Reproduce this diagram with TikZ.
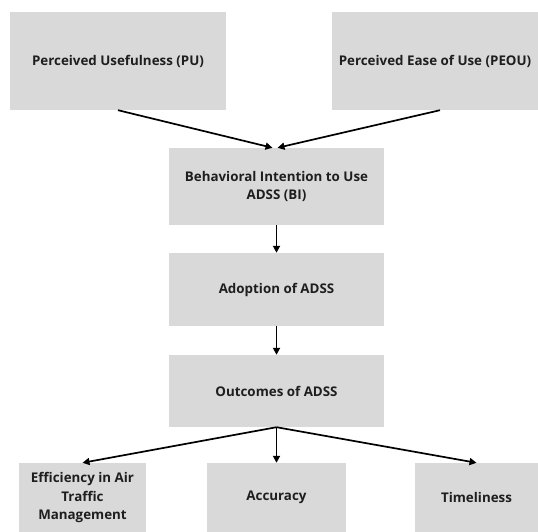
\documentclass[tikz,border=0pt]{standalone}
\usepackage{fontspec}
\setmainfont{Open Sans}
\usetikzlibrary{arrows.meta}
\definecolor{boxgray}{HTML}{D9D9D9}
\definecolor{txt}{HTML}{1E1E1E}
\begin{document}
\begin{tikzpicture}[x=1bp,y=-1bp,
  box/.style={fill=boxgray, draw=none, inner sep=2bp, align=center,
    text=txt, font=\fontsize{13.4}{18.5}\selectfont\bfseries},
  conn/.style={line width=1.7bp, -{Triangle[width=7bp,length=7bp]}}]
\useasboundingbox (0,0) rectangle (538,532);
\node[box, minimum width=216bp, minimum height=98bp] (pu) at (118,61) {Perceived Usefulness (PU)};
\node[box, minimum width=206bp, minimum height=98bp] (peou) at (435,61) {Perceived Ease of Use (PEOU)};
\node[box, minimum width=215bp, minimum height=77bp] (bi) at (276.5,186.5) {Behavioral Intention to Use\\ADSS (BI)};
\node[box, minimum width=215bp, minimum height=73bp] (ad) at (276.5,289.5) {Adoption of ADSS};
\node[box, minimum width=215bp, minimum height=72bp] (out) at (276.5,391) {Outcomes of ADSS};
\node[box, minimum width=127bp, minimum height=69bp] (eff) at (82.5,497.5) {Efficiency in Air\\Traffic\\Management};
\node[box, minimum width=139bp, minimum height=69bp] (acc) at (276.5,497.5) {Accuracy};
\node[box, minimum width=123bp, minimum height=69bp] (tim) at (476.5,497.5) {Timeliness};
\draw[conn] (pu.south) -- ([xshift=-4bp]bi.north);
\draw[conn] ([xshift=5bp]peou.south) -- ([xshift=1bp]bi.north);
\draw[conn] (bi.south) -- (ad.north);
\draw[conn] (ad.south) -- (out.north);
\draw[conn] (out.south) -- (eff.north);
\draw[conn] (out.south) -- (acc.north);
\draw[conn] (out.south) -- (tim.north);
\end{tikzpicture}
\end{document}
